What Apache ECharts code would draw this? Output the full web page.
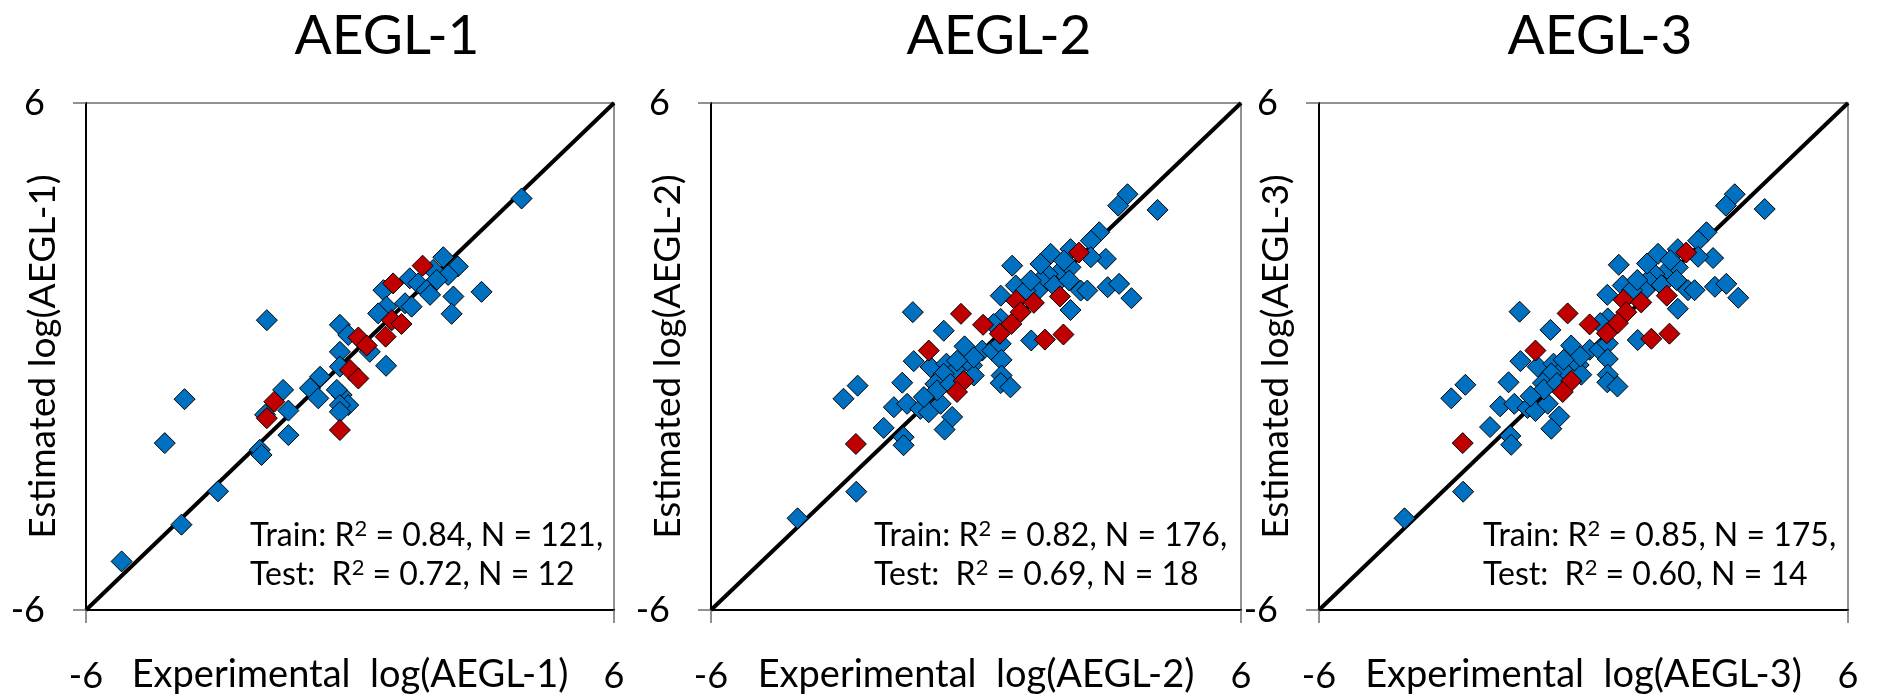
<!DOCTYPE html>
<html>
<head>
<meta charset="utf-8">
<script src="https://cdn.jsdelivr.net/npm/echarts@6/dist/echarts.min.js"></script>
<style>
html,body{margin:0;padding:0;background:#fff;}
#chart{width:1879px;height:698px;}
</style>
</head>
<body>
<div id="chart"></div>
<script>
// ---- data ----
const titles = ['AEGL-1', 'AEGL-2', 'AEGL-3'];
const axisTicks = [-6, 6];
const xNames = ['Experimental  log(AEGL-1)', 'Experimental  log(AEGL-2)', 'Experimental  log(AEGL-3)'];
const yNames = ['Estimated log(AEGL-1)', 'Estimated log(AEGL-2)', 'Estimated log(AEGL-3)'];
const trainR2 = ['0.84', '0.82', '0.85'];
const trainN = ['121', '176', '175'];
const testR2 = ['0.72', '0.69', '0.60'];
const testN = ['12', '18', '14'];
const identity = [[-6, -6], [6, 6]];

const train1 = [[3.90,3.74],[2.12,2.35],[2.45,2.13],[1.89,2.05],[2.23,1.93],[1.36,1.85],[1.55,1.73],[1.97,1.81],
[0.76,1.57],[1.74,1.57],[1.82,1.46],[2.35,1.42],[2.99,1.53],[2.31,1.01],[1.25,1.26],[1.40,1.18],[0.83,1.18],[0.64,1.02],
[-0.23,0.75],[-0.04,0.51],[0.45,0.11],[-1.89,0.86],[-0.23,0.11],[-0.23,-0.24],[0.82,-0.22],[-0.68,-0.48],[-0.91,-0.75],
[-0.72,-0.99],[-0.19,-0.91],[-0.30,-0.79],[-0.04,-1.15],[-0.23,-1.15],[-0.23,-1.31],[-1.52,-0.79],[-1.40,-1.28],[-1.93,-1.38],
[-1.40,-1.86],[-2.05,-2.21],[-2.01,-2.33],[-4.21,-2.05],[-3.76,-1.01],[-3.00,-3.19],[-3.83,-3.98],[-5.19,-4.85]];
const test1 = [[1.65,2.15],[0.98,1.73],[0.95,0.86],[1.17,0.77],[0.81,0.47],[0.19,0.45],[0.38,0.26],[0.00,-0.32],
[0.19,-0.52],[-1.72,-1.07],[-1.89,-1.46],[-0.23,-1.74]];

const train2 = [[3.43,3.84],[3.22,3.57],[4.11,3.47],[2.79,2.94],[2.60,2.74],[2.94,2.31],[2.60,2.35],[2.14,2.54],[1.69,2.43],
[0.82,2.15],[1.92,2.03],[2.14,2.11],[1.62,1.95],[1.46,1.80],[0.90,1.68],[0.56,1.44],[1.39,1.56],[1.77,1.68],[2.11,1.80],
[2.37,1.56],[2.52,1.56],[2.98,1.64],[3.24,1.72],[3.52,1.38],[2.14,1.10],[0.56,0.89],[-1.43,1.05],[-0.73,0.61],[1.25,0.38],
[-0.26,0.24],[0.14,0.14],[0.37,0.14],[0.56,0.30],[-1.41,-0.11],[-1.03,-0.25],[-0.67,-0.17],[-0.09,-0.21],[0.58,-0.08],
[-0.46,-0.33],[-0.73,-0.41],[-0.92,-0.65],[-0.05,-0.45],[0.58,-0.45],[0.56,-0.63],[0.78,-0.73],[-1.67,-0.62],[-2.68,-0.69],
[-3.00,-1.00],[-1.86,-1.20],[-1.56,-1.12],[-1.26,-1.24],[-1.07,-1.32],[-0.80,-1.12],[-0.54,-1.43],[-0.71,-1.73],[-2.09,-1.69],
[-1.64,-1.91],[-1.64,-2.10],[-2.71,-3.20],[-4.04,-3.83],[-0.05,-0.02],[-0.43,-0.10],[-0.88,-0.80],[-0.58,-0.65],[-1.18,-0.96],
[0.40,0.77],[1.12,1.56],[1.24,1.80],[1.46,2.19],[1.99,2.27]];
const test2 = [[2.33,2.46],[1.90,1.42],[0.91,1.32],[1.31,1.27],[1.01,1.05],[0.80,0.77],[0.54,0.54],[0.16,0.75],[-0.34,1.01],
[-1.07,0.14],[1.56,0.40],[1.98,0.52],[-0.28,-0.58],[-0.43,-0.84],[-2.72,-2.07]];

const train3 = [[3.43,3.84],[3.23,3.57],[4.11,3.49],[2.79,2.94],[2.60,2.74],[2.94,2.33],[2.60,2.36],[2.14,2.54],[1.69,2.43],
[0.80,2.17],[1.92,2.05],[2.14,2.11],[1.61,1.95],[1.46,1.80],[0.89,1.68],[0.54,1.46],[1.39,1.57],[1.77,1.69],[2.11,1.81],
[2.37,1.57],[2.52,1.57],[2.98,1.65],[3.24,1.72],[3.51,1.39],[2.14,1.13],[0.55,0.90],[-1.45,1.06],[-0.75,0.63],[1.23,0.39],
[-0.28,0.26],[0.14,0.16],[0.36,0.16],[0.55,0.31],[-1.43,-0.11],[-1.04,-0.24],[-0.68,-0.17],[-0.11,-0.20],[0.55,-0.06],
[-0.47,-0.32],[-0.73,-0.40],[-0.92,-0.63],[-0.05,-0.43],[0.55,-0.43],[0.54,-0.61],[0.77,-0.71],[-1.70,-0.61],[-2.68,-0.67],
[-3.00,-0.99],[-1.89,-1.18],[-1.57,-1.12],[-1.27,-1.22],[-1.09,-1.29],[-0.81,-1.12],[-0.55,-1.42],[-0.73,-1.71],[-2.12,-1.67],
[-1.66,-1.88],[-1.64,-2.09],[-2.73,-3.20],[-4.06,-3.83],[-0.07,0.00],[-0.45,-0.08],[-0.90,-0.78],[-0.60,-0.63],[-1.20,-0.94],
[0.38,0.79],[1.10,1.57],[1.22,1.81],[1.44,2.20],[1.97,2.28]];
const test3 = [[2.33,2.46],[1.89,1.44],[0.91,1.34],[1.31,1.28],[0.97,1.05],[0.78,0.79],[0.53,0.55],[0.14,0.76],[-0.36,1.02],
[-1.09,0.14],[1.54,0.42],[1.95,0.54],[-0.28,-0.58],[-0.47,-0.84],[-2.74,-2.05]];

const trainSets = [train1, train2, train3];
const testSets = [test1, test2, test3];

// ---- layout / style ----
const FONT = 'Lato';
const grids = [
  {left: 86, top: 103, width: 528, height: 507},
  {left: 711, top: 103, width: 530, height: 507},
  {left: 1319, top: 103, width: 529, height: 507}
];
const titleX = [387, 999, 1600];
const statsX = [250, 874, 1483];

const richStyles = {
  n: {fontSize: 32, fontFamily: FONT, color: '#000', lineHeight: 37, verticalAlign: 'middle'},
  s: {fontSize: 22, fontFamily: FONT, color: '#000', lineHeight: 25, verticalAlign: 'top'}
};

const chart = echarts.init(document.getElementById('chart'), null, {renderer: 'canvas'});

const option = {
  backgroundColor: '#fff',
  animation: false,
  grid: grids.map(g => Object.assign({show: true, borderColor: '#6e6e6e', borderWidth: 1.5, outerBoundsMode: 'none', containLabel: false}, g)),
  xAxis: grids.map((g, i) => ({
    gridIndex: i, type: 'value', min: axisTicks[0], max: axisTicks[1], interval: axisTicks[1] - axisTicks[0],
    axisLine: {show: true, onZero: false, lineStyle: {color: '#000', width: 2}},
    axisTick: {show: true, inside: false, length: 13, lineStyle: {color: '#6e6e6e', width: 1.5}},
    axisLabel: {fontSize: 36, color: '#000', fontFamily: FONT, margin: 48},
    splitLine: {show: false},
    name: xNames[i], nameLocation: 'middle', nameGap: 46, nameMoveOverlap: false,
    nameTextStyle: {fontSize: 38, color: '#000', fontFamily: FONT}
  })),
  yAxis: grids.map((g, i) => ({
    gridIndex: i, type: 'value', min: axisTicks[0], max: axisTicks[1], interval: axisTicks[1] - axisTicks[0],
    axisLine: {show: true, onZero: false, lineStyle: {color: '#000', width: 2}},
    axisTick: {show: true, inside: false, length: 13, lineStyle: {color: '#6e6e6e', width: 1.5}},
    axisLabel: {fontSize: 36, color: '#000', fontFamily: FONT, margin: 41},
    splitLine: {show: false},
    name: yNames[i], nameLocation: 'middle', nameGap: 24, nameMoveOverlap: false,
    nameTextStyle: {fontSize: 37, color: '#000', fontFamily: FONT}
  })),
  series: [].concat(...grids.map((g, i) => [
    {type: 'line', xAxisIndex: i, yAxisIndex: i, data: identity, symbol: 'none', silent: true, z: 1,
     lineStyle: {color: '#000', width: 4}},
    {type: 'scatter', xAxisIndex: i, yAxisIndex: i, data: trainSets[i], symbol: 'diamond', symbolSize: 21, z: 2,
     itemStyle: {color: '#0070C0', borderColor: '#000', borderWidth: 1, opacity: 1}},
    {type: 'scatter', xAxisIndex: i, yAxisIndex: i, data: testSets[i], symbol: 'diamond', symbolSize: 21, z: 3,
     itemStyle: {color: '#C00000', borderColor: '#000', borderWidth: 1, opacity: 1}}
  ])),
  graphic: [].concat(...titles.map((t, i) => [
    {type: 'text', x: titleX[i], y: 36, z: 10,
     style: {text: t, font: '55px ' + FONT, fill: '#000', align: 'center', verticalAlign: 'middle'}},
    {type: 'text', x: statsX[i], y: 536, z: 10,
     style: {text: '{n|Train: R}{s|2}{n| = ' + trainR2[i] + ', N = ' + trainN[i] + ',}', rich: richStyles,
             align: 'left', verticalAlign: 'middle'}},
    {type: 'text', x: statsX[i], y: 575, z: 10,
     style: {text: '{n|Test:  R}{s|2}{n| = ' + testR2[i] + ', N = ' + testN[i] + '}', rich: richStyles,
             align: 'left', verticalAlign: 'middle'}}
  ]))
};
chart.setOption(option);
</script>
</body>
</html>
